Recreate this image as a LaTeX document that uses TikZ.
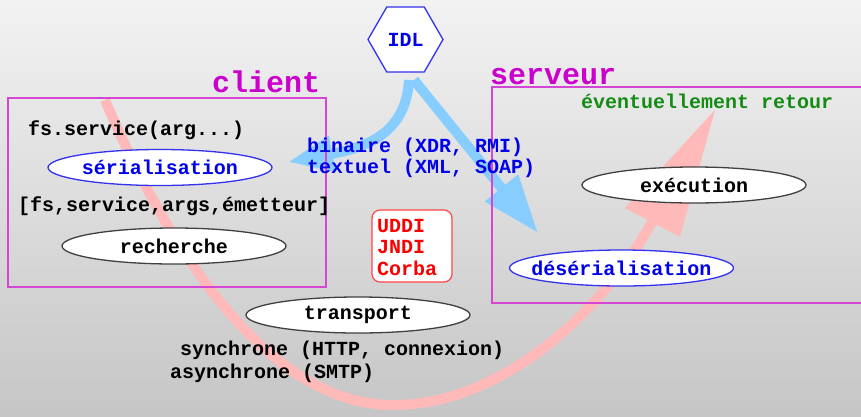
\documentclass[tikz,border=0pt]{standalone}
\usepackage{fontspec}
\setmainfont{Liberation Mono}
\usetikzlibrary{shapes.geometric,arrows.meta}
\definecolor{mag}{RGB}{204,0,204}
\definecolor{magline}{RGB}{212,70,212}
\definecolor{tblue}{RGB}{0,0,235}
\definecolor{eblue}{RGB}{50,50,240}
\definecolor{tgreen}{RGB}{20,140,20}
\definecolor{tred}{RGB}{250,0,0}
\definecolor{rline}{RGB}{255,70,70}
\definecolor{pinkarr}{RGB}{255,185,185}
\definecolor{bluearr}{RGB}{135,205,255}
\begin{document}
\begin{tikzpicture}[x=1pt,y=-1pt,
  every node/.style={font=\bfseries\fontsize{20}{24}\selectfont},
  txt/.style={anchor=base west, inner sep=0pt},
  ttl/.style={anchor=base west, inner sep=0pt, text=mag, font=\bfseries\fontsize{30}{32}\selectfont},
  ell/.style={ellipse, draw=black!75, fill=white, line width=1.3pt, minimum width=224pt, minimum height=36pt, inner sep=0pt},
  bell/.style={ell, draw=eblue, text=tblue},
  zone/.style={draw=magline, line width=1.2pt},
  pinkline/.style={draw=pinkarr, line width=10pt},
  bluelink/.style={draw=bluearr, line width=10pt}
]
\useasboundingbox (0,0) rectangle (861,416);
\shade[top color=gray!10, bottom color=gray!45] (0,0) rectangle (861,416);

% pink flow arrow
\coordinate (p0) at (105,100);
\coordinate (p1) at (393,405);
\coordinate (p2) at (652,222);
\coordinate (ptip) at (715,110);
\draw[pinkline] (p0) .. controls (160,230) and (260,405) .. (p1)
   .. controls (500,405) and (600,315) .. (p2);
\fill[pinkarr] (ptip) -- (625,208) -- (680,237) -- cycle;

% IDL
\node[regular polygon, regular polygon sides=6, minimum size=75pt, inner sep=0pt,
      draw=eblue, line width=1.3pt, fill=white, text=tblue] (idl) at (405.5,39.5) {IDL};

% blue arrows
\coordinate (b1) at (409,80);
\coordinate (b1t) at (288,162);
\coordinate (b2) at (414,80);
\coordinate (b2t) at (538,233);
\draw[bluelink, -{Triangle[length=45pt,width=34pt]}] (b1) .. controls (406,128) and (375,146) .. (b1t);
\draw[bluelink, -{Triangle[length=58pt,width=40pt]}] (b2) -- (b2t);

% zones
\draw[zone] (8,98) rectangle (326,287);
\draw[zone] (492,87) rectangle (875,303);
\node[ttl] (client) at (212,92) {client};
\node[ttl] (serveur) at (490,84) {serveur};

% client side
\node[txt] (call) at (28,135) {fs.service(arg...)};
\node[bell] (ser) at (160,167.5) {\makebox[0pt]{sérialisation}};
\node[txt] (msg) at (18,211) {[fs,service,args,émetteur]};
\node[ell] (rech) at (174,246) {\makebox[0pt]{recherche}};

% middle
\node[txt, text=tblue] (bin) at (307,152) {binaire (XDR, RMI)};
\node[txt, text=tblue] (txtl) at (307,173) {textuel (XML, SOAP)};
\node[draw=rline, line width=1.2pt, rounded corners=8pt, fill=white,
      minimum width=80pt, minimum height=72pt, inner sep=0pt] (reg) at (412,246) {};
\node[txt, text=tred] (uddi) at (377,232) {UDDI};
\node[txt, text=tred] (jndi) at (377,253) {JNDI};
\node[txt, text=tred] (corba) at (377,275) {Corba};
\node[ell] (trans) at (358,315) {\makebox[0pt]{transport}};
\node[txt] (sync) at (180,355) {synchrone (HTTP, connexion)};
\node[txt] (async) at (170,378) {asynchrone (SMTP)};

% server side
\node[txt, text=tgreen] (ret) at (581,108) {éventuellement retour};
\node[ell] (exec) at (694,185) {\makebox[0pt]{exécution}};
\node[bell] (deser) at (621.5,268) {\makebox[0pt]{désérialisation}};
\end{tikzpicture}
\end{document}
